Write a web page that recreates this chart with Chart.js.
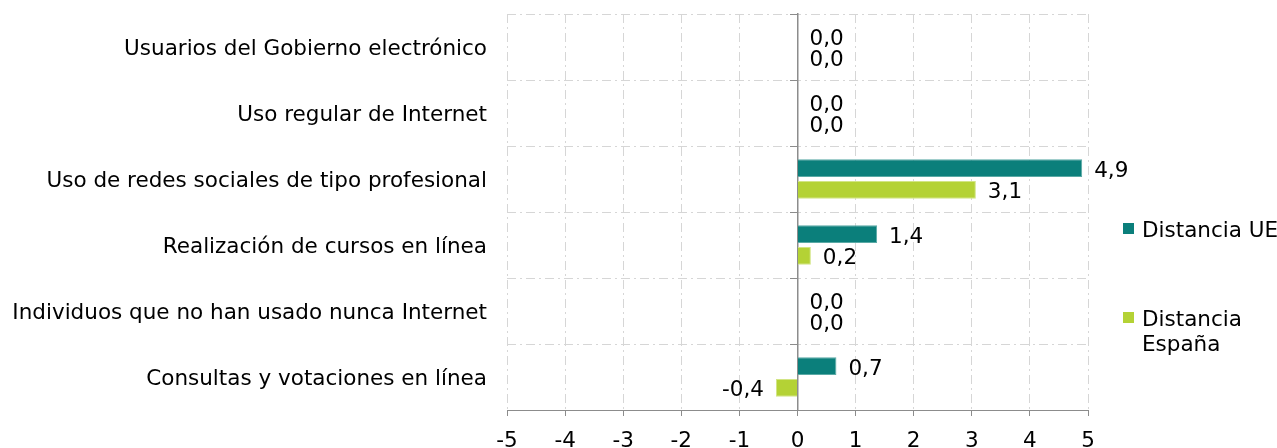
<!DOCTYPE html>
<html>
<head>
<meta charset="utf-8">
<script src="https://cdn.jsdelivr.net/npm/chart.js@4/dist/chart.umd.min.js"></script>
<style>
  html, body { margin: 0; padding: 0; background: #fff; }
  #wrap { width: 1277px; height: 448px; position: relative; }
</style>
</head>
<body>
<div id="wrap"><canvas id="chart"></canvas></div>
<script>
// data
const categories = [
  'Usuarios del Gobierno electrónico',
  'Uso regular de Internet',
  'Uso de redes sociales de tipo profesional',
  'Realización de cursos en línea',
  'Individuos que no han usado nunca Internet',
  'Consultas y votaciones en línea'
];
const seriesNames = ['Distancia UE', 'Distancia España'];
const distanciaUE = [0, 0, 4.9, 1.37, 0, 0.67];
const distanciaEspana = [0, 0, 3.07, 0.23, 0, -0.37];
const xTicks = [-5, -4, -3, -2, -1, 0, 1, 2, 3, 4, 5];

const FONT = 'Verdana, "DejaVu Sans", sans-serif';
const FSIZE = 21.5;
const teal = '#0b7f7b';
const lime = '#b4d235';
const gridGray = '#d6d6d6';
const axisGray = '#8c8c8c';
const dashDot = [9, 4, 2, 4];

// value labels at the bar ends
const valueLabels = {
  id: 'valueLabels',
  afterDatasetsDraw(chart) {
    const ctx = chart.ctx;
    ctx.save();
    ctx.font = FSIZE + 'px ' + FONT;
    ctx.fillStyle = '#000';
    ctx.textBaseline = 'middle';
    chart.data.datasets.forEach((ds, di) => {
      const meta = chart.getDatasetMeta(di);
      meta.data.forEach((bar, i) => {
        const v = ds.data[i];
        const txt = v.toFixed(1).replace('.', ',');
        if (v < 0) {
          ctx.textAlign = 'right';
          ctx.fillText(txt, bar.x - 12, bar.y + 3);
        } else {
          ctx.textAlign = 'left';
          ctx.fillText(txt, bar.x + 12, bar.y + 3);
        }
      });
    });
    ctx.restore();
  }
};

// legend on the right, "España" wraps to a second line
const sideLegend = {
  id: 'sideLegend',
  afterDraw(chart) {
    const ctx = chart.ctx;
    const area = chart.chartArea;
    const x = area.right + 35;
    const items = [
      { color: teal, lines: ['Distancia UE'], y: area.top + 215 },
      { color: lime, lines: ['Distancia', 'España'], y: area.top + 304 }
    ];
    ctx.save();
    ctx.font = FSIZE + 'px ' + FONT;
    ctx.textBaseline = 'middle';
    ctx.textAlign = 'left';
    items.forEach(it => {
      ctx.fillStyle = it.color;
      ctx.fillRect(x, it.y - 6, 11, 11);
      ctx.fillStyle = '#000';
      it.lines.forEach((ln, k) => ctx.fillText(ln, x + 19, it.y + 2 + k * 25));
    });
    ctx.restore();
  }
};

new Chart(document.getElementById('chart'), {
  type: 'bar',
  data: {
    labels: categories,
    datasets: [{
      label: seriesNames[0],
      data: distanciaUE,
      backgroundColor: teal,
      borderColor: '#5aa9a5',
      borderWidth: 1,
      barPercentage: 0.82,
      categoryPercentage: 0.66
    }, {
      label: seriesNames[1],
      data: distanciaEspana,
      backgroundColor: lime,
      borderColor: '#d2e585',
      borderWidth: 1,
      barPercentage: 0.82,
      categoryPercentage: 0.66
    }]
  },
  options: {
    indexAxis: 'y',
    responsive: true,
    maintainAspectRatio: false,
    animation: false,
    layout: { padding: { left: 0, right: 189, top: 14, bottom: 0 } },
    plugins: {
      legend: { display: false },
      tooltip: { enabled: false }
    },
    scales: {
      x: {
        min: -5,
        max: 5,
        afterBuildTicks(scale) {
          scale.ticks = xTicks.map(v => ({ value: v }));
        },
        afterFit(scale) { scale.height = 38; },
        grid: {
          color: ctx => (ctx.tick && ctx.tick.value === 0) ? 'rgba(0,0,0,0)' : gridGray,
          tickColor: axisGray,
          tickLength: 6,
          tickBorderDash: []
        },
        border: {
          color: axisGray,
          width: 1,
          dash: ctx => ctx.tick ? dashDot : []
        },
        ticks: {
          font: { family: FONT, size: FSIZE },
          color: '#000',
          padding: 13,
          maxRotation: 0,
          callback: v => String(v)
        }
      },
      y: {
        afterFit(scale) {
          scale.width = 507;
          scale.paddingTop = 0;
          scale.paddingBottom = 0;
        },
        grid: {
          offset: true,
          color: gridGray,
          drawTicks: false
        },
        border: { display: false, dash: dashDot },
        ticks: {
          font: { family: FONT, size: FSIZE },
          color: '#000',
          padding: 20,
          labelOffset: 2.5
        }
      },
      y2: {
        type: 'category',
        labels: categories,
        position: { x: 0 },
        offset: true,
        afterFit(scale) {
          scale.paddingTop = 0;
          scale.paddingBottom = 0;
        },
        grid: {
          offset: true,
          drawOnChartArea: false,
          tickLength: 7,
          tickColor: axisGray
        },
        border: { display: true, color: axisGray, width: 1.5 },
        ticks: { display: false }
      }
    }
  },
  plugins: [valueLabels, sideLegend]
});
</script>
</body>
</html>
